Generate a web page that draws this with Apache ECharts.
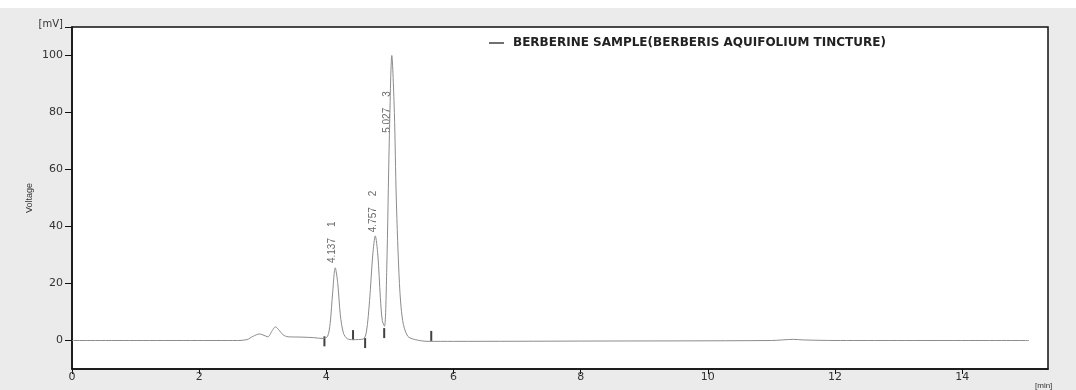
<!DOCTYPE html>
<html><head><meta charset="utf-8">
<script src="https://cdn.jsdelivr.net/npm/echarts@6/dist/echarts.min.js"></script>
<style>html,body{margin:0;padding:0;background:#fff}#c{width:1076px;height:390px}</style>
</head><body><div id="c"></div>
<script>
// Chromatogram trace: [time (min), signal (mV)]
var traceTimes = [0, 2.6, 2.75, 2.85, 2.95, 3.02, 3.08, 3.15, 3.2, 3.25, 3.32, 3.4, 3.6, 3.8, 3.95, 4.02, 4.06, 4.1, 4.14, 4.18, 4.22, 4.27, 4.33, 4.42, 4.58, 4.63, 4.68, 4.73, 4.77, 4.81, 4.85, 4.88, 4.915, 4.95, 4.99, 5.03, 5.07, 5.1, 5.15, 5.2, 5.28, 5.4, 5.6, 6, 8, 11, 11.35, 11.5, 12, 15.05];
var traceValues = [0, 0, 0.3, 1.5, 2.3, 1.8, 1.3, 3.5, 4.8, 3.8, 2.0, 1.3, 1.2, 1.0, 0.7, 1.5, 6, 17, 25.5, 20, 9, 2.5, 0.6, 0.3, 0.5, 3, 14, 30, 36.7, 30, 15, 7, 5, 25, 70, 100, 80, 50, 20, 7, 1.5, 0.3, -0.3, -0.3, -0.2, 0, 0.4, 0.2, 0, 0];
// Peak annotations (label anchor time, anchor mV, text)
var peakTimes = [4.1, 4.74, 4.96];
var peakLabelBase = [27, 37.8, 72.7];
var peakLabels = ['4.137    1', '4.757    2', '5.027    3'];
// Integration baseline markers: [time, centre mV]
var markerTimes = [3.97, 4.42, 4.61, 4.91, 5.65];
var markerCentres = [-0.3, 1.9, -0.9, 2.6, 1.6];
// Axis ticks
var xTicks = [0, 2, 4, 6, 8, 10, 12, 14];
var yTicks = [0, 20, 40, 60, 80, 100];
var seriesName = 'BERBERINE SAMPLE(BERBERIS AQUIFOLIUM TINCTURE)';

var traceData = traceTimes.map(function (t, i) { return [t, traceValues[i]]; });
var labelData = peakTimes.map(function (t, i) { return { value: [t, peakLabelBase[i]], label: { formatter: peakLabels[i] } }; });
var markerData = markerTimes.map(function (t, i) { return [t, markerCentres[i]]; });

var chart = echarts.init(document.getElementById('c'));
chart.setOption({
  backgroundColor: '#ebebeb',
  animation: false,
  textStyle: { fontFamily: 'DejaVu Sans, sans-serif' },
  graphic: [{ type: 'rect', shape: { x: 0, y: 0, width: 1076, height: 8 }, style: { fill: '#fff' }, silent: true }],
  grid: { left: 72, right: 28, top: 27, bottom: 19, show: true, backgroundColor: '#fff', borderColor: '#111', borderWidth: 1.5 },
  legend: {
    left: 484, top: 32,
    data: [{ name: seriesName, icon: 'rect', itemStyle: { color: '#111' } }],
    itemWidth: 15, itemHeight: 1.2,
    textStyle: { fontFamily: 'DejaVu Sans, sans-serif', fontSize: 12, fontWeight: 'bold', color: '#222', padding: [0, 0, 0, 4] }
  },
  xAxis: {
    type: 'value', min: 0, max: 15.35, interval: 2,
    name: '[min]', nameLocation: 'end', nameGap: -13,
    nameTextStyle: { fontFamily: 'Liberation Sans, sans-serif', fontSize: 8, color: '#333', align: 'left', verticalAlign: 'top', padding: [13, 0, 0, 0] },
    axisLine: { onZero: false, lineStyle: { color: '#111', width: 1.5 } },
    axisTick: { length: 5, lineStyle: { color: '#111' } },
    splitLine: { show: false },
    axisLabel: { color: '#333', fontSize: 11, margin: 3, showMaxLabel: false,
      formatter: function (v) { return xTicks.indexOf(v) >= 0 ? String(v) : ''; } }
  },
  yAxis: [{
    type: 'value', min: -10, max: 110, interval: 20,
    name: '[mV]', nameLocation: 'end', nameGap: 3,
    nameTextStyle: { fontSize: 10, color: '#333', align: 'right', verticalAlign: 'middle', padding: [0, 9, 0, 0] },
    axisLine: { show: true, lineStyle: { color: '#111', width: 1.5 } },
    axisTick: { length: 7, lineStyle: { color: '#111' }, customValues: yTicks.concat([110]) },
    splitLine: { show: false },
    axisLabel: { color: '#333', fontSize: 11, margin: 9, customValues: yTicks,
      formatter: function (v) { return yTicks.indexOf(v) >= 0 ? String(v) : ''; } }
  }, {
    type: 'value', min: -10, max: 110, position: 'left',
    name: 'Voltage', nameLocation: 'middle', nameGap: 38, nameRotate: 90,
    nameTextStyle: { fontFamily: 'Liberation Sans, sans-serif', fontSize: 9, color: '#333' },
    axisLine: { show: false }, axisTick: { show: false }, axisLabel: { show: false }, splitLine: { show: false }
  }],
  series: [{
    name: seriesName, type: 'line', data: traceData, smooth: 0.3, showSymbol: false,
    lineStyle: { color: '#8c8c8c', width: 1 }, itemStyle: { color: '#111' }
  }, {
    type: 'scatter', data: labelData, symbolSize: 1, itemStyle: { color: 'rgba(0,0,0,0)' },
    label: { show: true, position: [0, 0], rotate: 90, align: 'left', verticalAlign: 'middle', fontFamily: 'Liberation Sans, sans-serif', fontSize: 10, color: '#444' }
  }, {
    type: 'scatter', data: markerData, symbol: 'rect', symbolSize: [2, 10], itemStyle: { color: '#111' }
  }]
});
</script></body></html>
